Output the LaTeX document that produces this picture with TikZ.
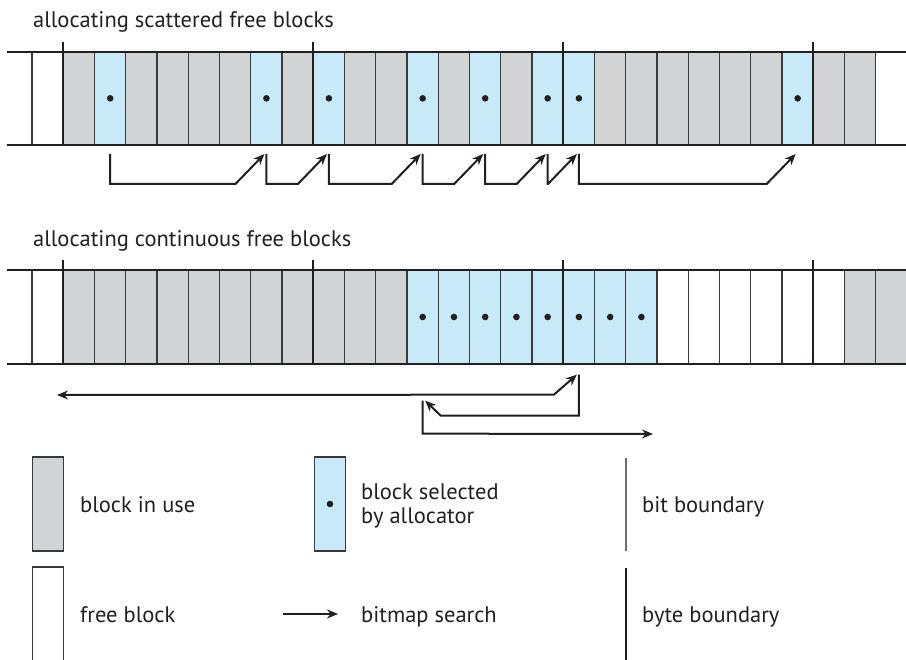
\documentclass[tikz,border=0pt]{standalone}
\usepackage{fontspec}
\setmainfont{PT Sans}
\usetikzlibrary{arrows.meta}
\definecolor{inkc}{HTML}{231F20}
\definecolor{usegray}{HTML}{D1D3D4}
\definecolor{selblue}{HTML}{C7E9F8}
\definecolor{cellline}{HTML}{3A3A3A}
\definecolor{bitgray}{HTML}{6D6E70}
\begin{document}
\begin{tikzpicture}[x=1pt,y=-1pt,
  cell/.style={draw=cellline, line width=1.2pt, minimum width=31.25pt, minimum height=93.3pt, inner sep=0pt, outer sep=0pt},
  rail/.style={draw=inkc, line width=2.3pt},
  bytel/.style={draw=inkc, line width=2.1pt},
  tip/.tip={Stealth[length=11pt,width=9pt]},
  search/.style={draw=inkc, line width=2pt, -tip},
  dotc/.style={fill=inkc},
  txt/.style={anchor=base west, inner sep=0pt, font=\fontsize{22.5}{27}\selectfont, text=inkc}
]
\useasboundingbox (0,0) rectangle (906,660);
% ---------- row 1 ----------
\foreach \i/\f in {-1/white,0/usegray,1/selblue,2/usegray,3/usegray,4/usegray,5/usegray,6/selblue,7/usegray,8/selblue,9/usegray,10/usegray,11/selblue,12/usegray,13/selblue,14/usegray,15/selblue,16/selblue,17/usegray,18/usegray,19/usegray,20/usegray,21/usegray,22/usegray,23/selblue,24/usegray,25/usegray}
  \node[cell, fill=\f] (r1c\i) at ({63.3+31.25*(\i+0.5)}, 98.35) {};
\foreach \i in {1,6,8,11,13,15,16,23}
  \fill[dotc] (r1c\i.center) circle (3.3);
\draw[rail] (7,51.7) -- (906,51.7);
\draw[rail] (7,145) -- (906,145);
\foreach \b in {0,8,16,24}
  \draw[bytel] (r1c\b.south west) -- ([yshift=10pt]r1c\b.north west);
\node[txt] (t1) at (33,28) {allocating scattered free blocks};
\foreach \a/\b in {1/6,6/8,8/11,11/13,13/15,15/16,16/23}
  \draw[search] ([yshift=-9pt]r1c\a.south) -- ([yshift=-39pt]r1c\a.south)
     -- ([xshift=-31pt,yshift=-39pt]r1c\b.south) -- ([xshift=-2pt,yshift=-9pt]r1c\b.south);
% ---------- row 2 ----------
\node[cell, fill=white] (r2c-1) at ({63.3+31.25*(-0.5)}, 317) {};
\foreach \i in {0,...,10}
  \node[cell, fill=usegray] (r2c\i) at ({63.3+31.25*(\i+0.5)}, 317) {};
\foreach \i in {11,...,18}
  \node[cell, fill=selblue] (r2c\i) at ({63.3+31.25*(\i+0.5)}, 317) {};
\foreach \i in {19,...,24}
  \node[cell, fill=white] (r2c\i) at ({63.3+31.25*(\i+0.5)}, 317) {};
\foreach \i in {25,26}
  \node[cell, fill=usegray] (r2c\i) at ({63.3+31.25*(\i+0.5)}, 317) {};
\foreach \i in {11,...,18}
  \fill[dotc] (r2c\i.center) circle (3.3);
\draw[rail] (7,270) -- (906,270);
\draw[rail] (7,364) -- (906,364);
\foreach \b in {0,8,16,24}
  \draw[bytel] (r2c\b.south west) -- ([yshift=10pt]r2c\b.north west);
\node[txt] (t2) at (33,247) {allocating continuous free blocks};
\coordinate (lend) at (57,395);
\coordinate (rend) at (653,434);
\draw[search, tip-tip] (lend) -- ([xshift=-25pt,yshift=-31pt]r2c16.south) -- ([xshift=-2pt,yshift=-11pt]r2c16.south);
\draw[search] ([yshift=-11pt]r2c16.south) -- ([yshift=-52pt]r2c16.south)
   -- ([xshift=18pt,yshift=-52pt]r2c11.south) -- ([xshift=2.5pt,yshift=-37pt]r2c11.south);
\draw[search] ([yshift=-37pt]r2c11.south) -- ([yshift=-70pt]r2c11.south) -- (rend);
% ---------- legend ----------
\node[cell, fill=usegray, minimum width=30.6pt, minimum height=94pt] (lu) at (48,504) {};
\node[txt] (lut) at (80,513) {block in use};
\node[cell, fill=selblue, minimum width=30.6pt, minimum height=94pt] (ls) at (330,504) {};
\fill[dotc] (ls.center) circle (3.3);
\node[txt] (lst1) at (361,500) {block selected};
\node[txt] (lst2) at (361,524) {by allocator};
\coordinate (bitA) at (626,458);
\coordinate (bitB) at (626,551);
\draw[draw=bitgray, line width=1.3pt] (bitA) -- (bitB);
\node[txt] (lbt) at (642,513) {bit boundary};
\node[cell, fill=white, minimum width=30.6pt, minimum height=110pt] (lf) at (48,622) {};
\node[txt] (lft) at (80,622) {free block};
\coordinate (laA) at (283,614);
\coordinate (laB) at (338,614);
\draw[search] (laA) -- (laB);
\node[txt] (lat) at (361,622) {bitmap search};
\coordinate (byA) at (626,568);
\coordinate (byB) at (626,662);
\draw[bytel] (byA) -- (byB);
\node[txt] (lyt) at (642,622) {byte boundary};
\end{tikzpicture}
\end{document}
